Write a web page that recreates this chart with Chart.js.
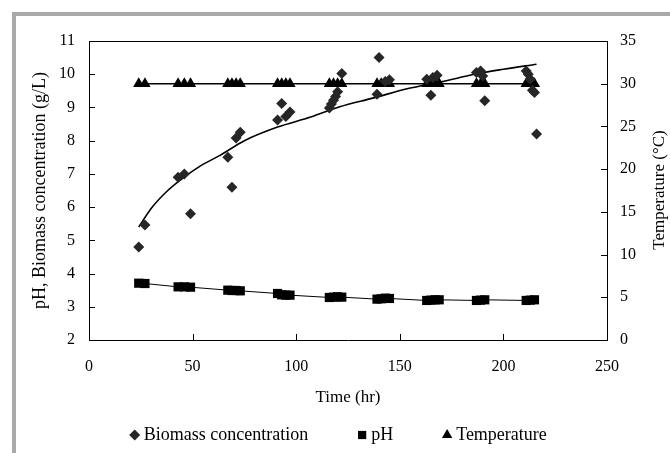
<!DOCTYPE html>
<html>
<head>
<meta charset="utf-8">
<script src="https://cdn.jsdelivr.net/npm/chart.js@4.4.0/dist/chart.umd.min.js"></script>
<style>
  html, body { margin: 0; padding: 0; background: #fff; }
  #wrap { position: relative; width: 670px; height: 453px; overflow: hidden; }
  #frame { position: absolute; left: 12px; top: 12px; width: 700px; height: 500px;
           border-left: 4px solid #a9a9a9; border-top: 4px solid #a9a9a9; }
  canvas { position: absolute; left: 0; top: 0; }
</style>
</head>
<body>
<div id="wrap">
  <div id="frame"></div>
  <canvas id="chart" width="670" height="453"></canvas>
</div>
<script>
// values
const biomassTime = [24, 27, 43, 46, 49, 67, 69, 71, 73, 91, 93, 95, 97,
  116, 117, 118, 119, 120, 122, 139, 140, 143, 145, 163, 165, 166, 168,
  187, 189, 190, 191, 211, 212, 213, 214, 215, 216];
const biomassConc = [4.8, 5.46, 6.9, 7.0, 5.8, 7.5, 6.6, 8.08, 8.25, 8.62, 9.12, 8.73, 8.86,
  8.98, 9.1, 9.22, 9.33, 9.47, 10.02, 9.4, 10.5, 9.78, 9.83, 9.85, 9.37, 9.9, 9.97,
  10.05, 10.1, 9.95, 9.2, 10.1, 10.0, 9.85, 9.52, 9.45, 8.2];

const trendTime = [24, 30, 38, 45, 54, 63, 75, 91, 107, 121, 137, 154, 170, 186, 200, 216];
const trendConc = [5.40, 5.96, 6.50, 6.86, 7.25, 7.55, 8.0, 8.41, 8.71, 9.02, 9.28, 9.57, 9.77, 10.0, 10.15, 10.3];

const phTime = [24, 27, 43, 46, 49, 67, 69, 71, 73, 91, 93, 95, 97, 116, 118, 120, 122,
  139, 141, 143, 145, 163, 165, 167, 169, 187, 189, 191, 211, 213, 215];
const phValue = [3.71, 3.70, 3.60, 3.60, 3.59, 3.50, 3.49, 3.49, 3.48, 3.40, 3.36, 3.35, 3.35,
  3.28, 3.29, 3.30, 3.29, 3.23, 3.24, 3.26, 3.25, 3.19, 3.20, 3.21, 3.21,
  3.19, 3.20, 3.21, 3.19, 3.20, 3.21];

const tempTime = [24, 27, 43, 46, 49, 67, 69, 71, 73, 91, 93, 95, 97, 116, 118, 120, 122,
  139, 141, 143, 145, 163, 165, 167, 169, 187, 189, 191, 211, 213, 215];
const tempValue = [30, 30, 30, 30, 30, 30, 30, 30, 30, 30, 30, 30, 30, 30, 30, 30, 30,
  30, 30, 30, 30, 30, 30, 30, 30, 30, 30, 30, 30, 30, 30];

const seriesLabels = ['Biomass concentration', 'pH', 'Temperature'];
const xTitle = 'Time (hr)';
const yTitle = 'pH, Biomass concentration (g/L)';
const y2Title = 'Temperature (\u00B0C)';

const FAMILY = "'Liberation Serif', 'Times New Roman', serif";
Chart.defaults.font.family = FAMILY;
Chart.defaults.color = '#000';

const pts = (xs, ys) => xs.map((x, i) => ({ x: x, y: ys[i] }));

// ticks point inwards, top border, rotated right title and the legend
const extras = {
  id: 'extras',
  beforeDatasetsDraw(chart) {
    const { ctx, chartArea: a, scales } = chart;
    const al = v => Math.round(v) + 0.5;
    ctx.save();
    ctx.strokeStyle = '#000';
    ctx.lineWidth = 1;
    ctx.beginPath();
    ctx.moveTo(a.left, al(a.top));
    ctx.lineTo(a.right, al(a.top));
    scales.x.ticks.forEach(t => {
      const p = al(scales.x.getPixelForValue(t.value));
      ctx.moveTo(p, a.bottom);
      ctx.lineTo(p, a.bottom - 6);
    });
    scales.y.ticks.forEach(t => {
      const p = al(scales.y.getPixelForValue(t.value));
      ctx.moveTo(a.left, p);
      ctx.lineTo(a.left + 6, p);
    });
    scales.y2.ticks.forEach(t => {
      const p = al(scales.y2.getPixelForValue(t.value));
      ctx.moveTo(a.right, p);
      ctx.lineTo(a.right - 6, p);
    });
    ctx.stroke();
    ctx.restore();
  },
  afterDraw(chart) {
    const { ctx } = chart;
    ctx.save();
    ctx.fillStyle = '#000';
    ctx.font = '17px ' + FAMILY;
    ctx.translate(660, 190);
    ctx.rotate(-Math.PI / 2);
    ctx.textAlign = 'center';
    ctx.textBaseline = 'middle';
    ctx.fillText(y2Title, 0, 0);
    ctx.restore();

    const items = chart.data.datasets.filter(d => !d.noLegend);
    ctx.save();
    ctx.font = '18px ' + FAMILY;
    const widths = items.map(d => ctx.measureText(d.label).width);
    const r = 5.5, gapText = 9, gapItem = 54;
    const total = r + widths.reduce((s, w) => s + w + gapText, 0) + gapItem * (items.length - 1);
    let m = 338 - total / 2 + r;
    const y = 435;
    ctx.textBaseline = 'middle';
    ctx.textAlign = 'left';
    items.forEach((d, i) => {
      ctx.fillStyle = d.pointBackgroundColor;
      Chart.helpers.drawPoint(ctx, { pointStyle: d.pointStyle, radius: d.legendRadius, rotation: 0, borderWidth: 0 }, m, y);
      ctx.fillStyle = '#000';
      ctx.fillText(d.label, m + gapText, y);
      m += gapText + widths[i] + gapItem;
    });
    ctx.restore();
  }
};

new Chart(document.getElementById('chart'), {
  type: 'scatter',
  data: {
    datasets: [
      {
        label: seriesLabels[0],
        data: pts(biomassTime, biomassConc),
        pointStyle: 'rectRot',
        pointRadius: 5.5,
        legendRadius: 5.5,
        pointBackgroundColor: '#262626',
        pointBorderWidth: 0,
        showLine: false
      },
      {
        label: 'Biomass trend',
        noLegend: true,
        data: pts(trendTime, trendConc),
        showLine: true,
        pointRadius: 0,
        borderColor: '#000',
        borderWidth: 1.6,
        cubicInterpolationMode: 'monotone'
      },
      {
        label: seriesLabels[1],
        data: pts(phTime, phValue),
        showLine: true,
        borderColor: '#000',
        borderWidth: 1,
        pointStyle: 'rect',
        pointRadius: 6.5,
        legendRadius: 5.8,
        pointBackgroundColor: '#000',
        pointBorderWidth: 0
      },
      {
        label: seriesLabels[2],
        data: pts(tempTime, tempValue),
        yAxisID: 'y2',
        showLine: true,
        borderColor: '#000',
        borderWidth: 1.5,
        pointStyle: 'triangle',
        pointRadius: 6.5,
        legendRadius: 6,
        pointBackgroundColor: '#000',
        pointBorderWidth: 0
      }
    ]
  },
  options: {
    responsive: false,
    animation: false,
    devicePixelRatio: 1,
    layout: { padding: { left: 0, right: 0, top: 41, bottom: 38 } },
    plugins: { legend: { display: false }, tooltip: { enabled: false } },
    scales: {
      x: {
        type: 'linear',
        min: 0, max: 250,
        grid: { display: false, drawTicks: false },
        border: { display: true, color: '#000', width: 1 },
        ticks: { stepSize: 50, padding: 17, font: { size: 16 } },
        title: { display: true, text: xTitle, font: { size: 17 }, padding: { top: 0, bottom: 7 } },
        afterFit: s => { s.height = 75; }
      },
      y: {
        min: 2, max: 11,
        grid: { display: false, drawTicks: false },
        border: { display: true, color: '#000', width: 1 },
        ticks: { stepSize: 1, padding: 14, font: { size: 16 } },
        title: { display: true, text: yTitle, font: { size: 18 }, padding: { top: 29, bottom: 0 } },
        afterFit: s => { s.width = 89; }
      },
      y2: {
        position: 'right',
        min: 0, max: 35,
        grid: { display: false, drawTicks: false },
        border: { display: true, color: '#000', width: 1 },
        ticks: { stepSize: 5, padding: 13, font: { size: 16 } },
        afterFit: s => { s.width = 63; }
      }
    }
  },
  plugins: [extras]
});
</script>
</body>
</html>
